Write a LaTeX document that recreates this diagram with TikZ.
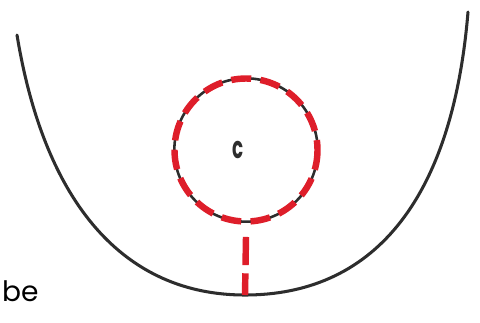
\documentclass[tikz,border=0pt]{standalone}
\usepackage{fontspec}
\setmainfont{Poppins}
\usepackage{xcolor}
\usepackage{tikz}
\usetikzlibrary{positioning,calc}
\definecolor{inkgray}{RGB}{45,45,45}
\definecolor{markred}{RGB}{222,30,42}

\begin{document}
\begin{tikzpicture}[x=0.03cm,y=-0.03cm,
    well/.style={inkgray,line width=2.6pt,line cap=round},
    ring/.style={draw=inkgray,line width=2.2pt,circle,minimum size=4.3cm,inner sep=0pt},
    redmark/.style={markred,line width=5.5pt,dash pattern=on 17pt off 8pt},
    drop/.style={markred,line width=5.5pt,dash pattern=on 24pt off 7pt}]
  \useasboundingbox (0,0) rectangle (480,322);
  \coordinate (top left) at (17,35);
  \coordinate (bottom) at (245,295);
  \coordinate (top right) at (468,12);
  \draw[well] (top left) .. controls (45,205) and (125,295) .. (bottom)
              .. controls (370,295) and (452,205) .. (top right);
  \node[ring] (cell) at (246,150) {};
  \draw[redmark] (cell.center) circle[radius=71.5];
  \node[font=\fontsize{26}{26}\selectfont\bfseries,inkgray,xscale=0.6] (c) at (238,150) {c};
  \draw[drop] ($(cell.south)+(0,14)$) -- (bottom);
  \node[font=\fontsize{24}{28}\selectfont,anchor=base west,inner sep=0pt] (be) at (2,301) {be};
\end{tikzpicture}
\end{document}
